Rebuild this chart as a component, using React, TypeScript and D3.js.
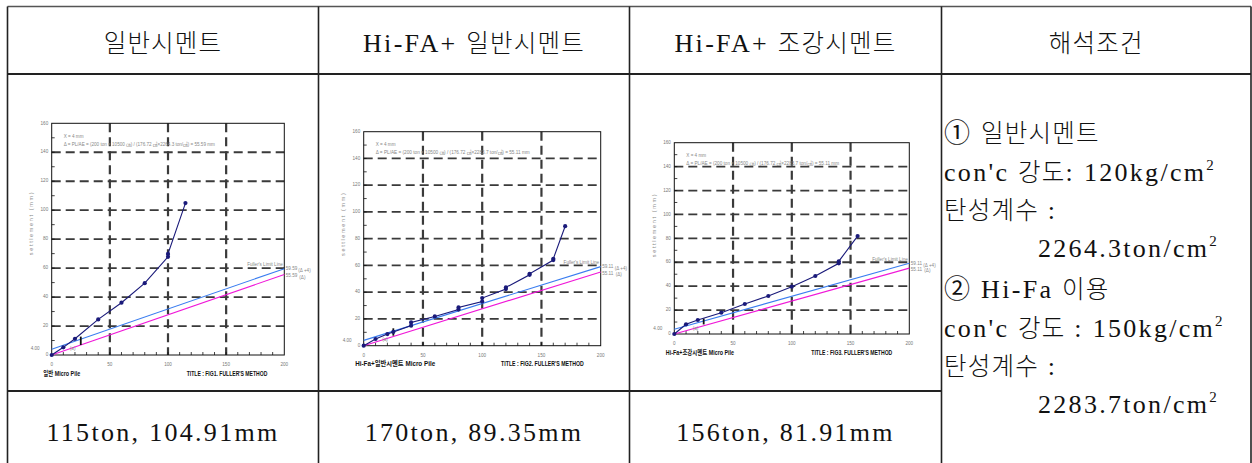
import React from "react";
import * as d3 from "d3";

// ---- table text ----
const headers = ["일반시멘트", "Hi-FA+ 일반시멘트", "Hi-FA+ 조강시멘트", "해석조건"];
const results = ["115ton, 104.91mm", "170ton, 89.35mm", "156ton, 81.91mm"];

// ---- load (ton) / settlement (mm) series ----
const loads1 = [0, 10, 20, 40, 60, 80, 100, 100, 115];
const settle1 = [0, 5.3, 11.2, 24.6, 36.1, 49.6, 67.8, 69.8, 104.91];

const loads2 = [0, 10, 20, 25, 40, 40, 60, 80, 80, 100, 100, 120, 120, 140, 140, 160, 160, 170];
const settle2 = [0, 5, 8.7, 10.3, 15, 17.4, 21.9, 27, 28.6, 33, 35.6, 42.3, 43.6, 53, 53.8, 64, 65, 89.35];

const loads3 = [0, 10, 20, 40, 60, 80, 100, 120, 140, 140, 156];
const settle3 = [0, 8.1, 11.7, 17.8, 25.1, 31.8, 39.6, 48.5, 59.1, 60.8, 81.91];

// Fuller's method: elastic shortening Δ and offset X
const deltas = [55.59, 55.11, 55.11];
const offsetX = 4;
const moduli = ["2264.3", "2283.7", "2283.7"];
const markerLoad = 25;
const markerLow = [6.9, 7.5, 8];
const markerHigh = [12.7, 13, 13];

const pileNames = ["일반 Micro Pile", "Hi-Fa+일반시멘트 Micro Pile", "Hi-Fa+조강시멘트 Micro Pile"];
const figTitles = ["TITLE : FIG1. FULLER'S METHOD", "TITLE : FIG2. FULLER'S METHOD", "TITLE : FIG3. FULLER'S METHOD"];

const xTicks = [0, 50, 100, 150, 200];
const yTicks = [0, 20, 40, 60, 80, 100, 120, 140, 160];

const serif = "'Liberation Serif', 'Noto Sans CJK KR', serif";
const sans = "'Liberation Sans', Arial, 'Noto Sans CJK KR', sans-serif";

// Split a string into Hangul / non-Hangul runs so each can get its own metrics.
const HANGUL = /[\uAC00-\uD7A3\u3131-\u318E]+|[^\uAC00-\uD7A3\u3131-\u318E]+/g;
function MixedRuns({ text }: { text: string }) {
  const runs = text.match(HANGUL) || [];
  return (
    <>
      {runs.map((r, i) =>
        /[\uAC00-\uD7A3]/.test(r) ? (
          <tspan key={i} fontSize={24.5} letterSpacing={1.2} fontWeight={300}>{r}</tspan>
        ) : (
          <tspan key={i} fontSize={26} letterSpacing={2.3}>{r}</tspan>
        )
      )}
    </>
  );
}

type ChartProps = {
  x0: number; y0: number; w: number; h: number;
  loads: number[]; settles: number[]; idx: number;
  captionW: number; titleW: number;
};

function FullerChart({ x0, y0, w, h, loads, settles, idx, captionW, titleW }: ChartProps) {
  const x = d3.scaleLinear().domain([0, 200]).range([x0, x0 + w]);
  const y = d3.scaleLinear().domain([0, 160]).range([y0 + h, y0]);
  const delta = deltas[idx];
  const pts = loads.map((l, i) => [l, settles[i]] as [number, number]);
  const line = d3.line<[number, number]>().x((d) => x(d[0])).y((d) => y(d[1]));
  const grid = "#3a3a3a";
  const tickColor = "#777";
  const minor = d3.range(10, 200, 10);
  const minorY = d3.range(10, 160, 10);
  return (
    <g>
      {/* dashed grid */}
      {yTicks.slice(1, -1).map((t) => (
        <line key={"gy" + t} x1={x0} x2={x0 + w} y1={y(t)} y2={y(t)} stroke={grid} strokeWidth={1.8} strokeDasharray="9 5" />
      ))}
      {xTicks.slice(1, -1).map((t) => (
        <line key={"gx" + t} x1={x(t)} x2={x(t)} y1={y0} y2={y0 + h} stroke={grid} strokeWidth={2.2} strokeDasharray="9 5" />
      ))}
      {/* frame */}
      <rect x={x0} y={y0} width={w} height={h} fill="none" stroke="#111" strokeWidth={1} />
      {minor.map((t) => (
        <line key={"mx" + t} x1={x(t)} x2={x(t)} y1={y0 + h} y2={y0 + h - 3} stroke="#111" strokeWidth={0.8} />
      ))}
      {minorY.map((t) => (
        <line key={"my" + t} x1={x0} x2={x0 + 3} y1={y(t)} y2={y(t)} stroke="#111" strokeWidth={0.8} />
      ))}
      {/* tick labels */}
      {yTicks.map((t) => (
        <text key={"ly" + t} x={x0 - 3.5} y={y(t)} fontSize={4.6} fill={tickColor} textAnchor="end" dominantBaseline="middle" fontFamily={sans}>{t}</text>
      ))}
      <text x={x0 - 12} y={y(offsetX)} fontSize={4.6} fill={tickColor} textAnchor="end" dominantBaseline="middle" fontFamily={sans}>4.00</text>
      {xTicks.map((t) => (
        <text key={"lx" + t} x={x(t)} y={y0 + h + 10} fontSize={4.6} fill={tickColor} textAnchor="middle" dominantBaseline="middle" fontFamily={sans}>{t}</text>
      ))}
      {/* axis title */}
      <text transform={`translate(${x0 - 20},${y0 + h * 0.43}) rotate(-90)`} fontSize={5.6} fill="#888" textAnchor="middle" dominantBaseline="middle" fontFamily={sans} letterSpacing={1.6}>settlement  (mm)</text>
      {/* annotation */}
      <text x={x0 + 12} y={y0 + 13} fontSize={4.6} fill="#888" fontFamily={sans} dominantBaseline="middle">X =  4 mm</text>
      <text x={x0 + 12} y={y0 + 21} fontSize={4.6} fill="#888" fontFamily={sans} dominantBaseline="middle" textLength={w * 0.65} lengthAdjust="spacingAndGlyphs">
        {`Δ = PL/AE = (200 ton × 10500 ㎝) / (176.72 ㎠×${moduli[idx]} ton/㎠) = ${delta.toFixed(2)} mm`}
      </text>
      {/* Fuller limit lines */}
      <line x1={x(0)} y1={y(offsetX)} x2={x(200)} y2={y(delta + offsetX)} stroke="#3a7df0" strokeWidth={1.1} />
      <line x1={x(0)} y1={y(0)} x2={x(200)} y2={y(delta)} stroke="#f018d8" strokeWidth={1.1} />
      <text x={x(200) - 1.5} y={y(delta + offsetX) - 2.5} fontSize={4.6} fill="#888" textAnchor="end" fontFamily={sans}>Fuller's Limit Line</text>
      <text x={x(200) + 1.5} y={y(delta + offsetX)} fontSize={4.6} fill="#888" dominantBaseline="middle" fontFamily={sans}>{(delta + offsetX).toFixed(2)}</text>
      <text x={x(200) + 14} y={y(delta + offsetX) + 2} fontSize={4.6} fill="#888" dominantBaseline="middle" fontFamily={sans}>(Δ +4)</text>
      <text x={x(200) + 1.5} y={y(delta) + 1.5} fontSize={4.6} fill="#888" dominantBaseline="middle" fontFamily={sans}>{delta.toFixed(2)}</text>
      <text x={x(200) + 15} y={y(delta) + 3} fontSize={4.6} fill="#888" dominantBaseline="middle" fontFamily={sans}>(Δ)</text>
      {/* intersection marker */}
      <line x1={x(markerLoad)} x2={x(markerLoad)} y1={y(markerLow[idx])} y2={y(markerHigh[idx])} stroke="#111" strokeWidth={1.8} />
      <text x={x(18)} y={y(4.5)} fontSize={4.6} fill="#888" textAnchor="middle" dominantBaseline="middle" fontFamily={sans}>(a)</text>
      {/* load-settlement curve */}
      <path d={line(pts) || ""} fill="none" stroke="#1a1a7a" strokeWidth={1.1} />
      {pts.map((p, i) => (
        <circle key={"p" + i} cx={x(p[0])} cy={y(p[1])} r={2.1} fill="#1a1a7a" />
      ))}
      {/* captions */}
      <text x={x0 - 8.5} y={y0 + h + 19} fontSize={6.5} fontWeight="bold" fill="#111" fontFamily={sans} dominantBaseline="middle" textLength={captionW} lengthAdjust="spacingAndGlyphs">{pileNames[idx]}</text>
      <text x={x0 + w - titleW - 17} y={y0 + h + 19} fontSize={6.5} fontWeight="bold" fill="#111" fontFamily={sans} dominantBaseline="middle" textLength={titleW} lengthAdjust="spacingAndGlyphs">{figTitles[idx]}</text>
    </g>
  );
}

export default function App() {
  const W = 1252, H = 463;
  const colX = [7.5, 318.5, 629.5, 941.5, 1251];
  const rowY = [6.5, 74, 391, 463];
  const tableStroke = "#222";
  const rightLines: { text: string; sup?: boolean; indent?: boolean }[] = [
    { text: "① 일반시멘트" },
    { text: "con'c 강도: 120kg/cm", sup: true },
    { text: "탄성계수 :" },
    { text: "2264.3ton/cm", sup: true, indent: true },
    { text: "② Hi-Fa 이용" },
    { text: "con'c 강도 : 150kg/cm", sup: true },
    { text: "탄성계수 :" },
    { text: "2283.7ton/cm", sup: true, indent: true },
  ];
  const rightBase = [142, 181, 219, 257, 298, 337, 375, 413];
  return (
    <svg width={W} height={H} viewBox={`0 0 ${W} ${H}`} style={{ position: "absolute", left: 0, top: 0, background: "#fff" }}>
      <rect x={0} y={0} width={W} height={H} fill="#fff" />
      {/* table grid */}
      <line x1={colX[0]} x2={colX[4]} y1={rowY[0]} y2={rowY[0]} stroke="#555" strokeWidth={1.5} />
      <line x1={colX[0]} x2={colX[4]} y1={rowY[1]} y2={rowY[1]} stroke={tableStroke} strokeWidth={2} />
      <line x1={colX[0]} x2={colX[3]} y1={rowY[2]} y2={rowY[2]} stroke={tableStroke} strokeWidth={2} />
      {colX.map((cx, i) => (
        <line key={"c" + i} x1={cx} x2={cx} y1={rowY[0]} y2={H} stroke={tableStroke} strokeWidth={1.6} />
      ))}
      {headers.map((t, i) => (
        <text key={"h" + i} x={(colX[i] + colX[i + 1]) / 2} y={52} fontFamily={serif} textAnchor="middle" fill="#111">
          <MixedRuns text={t} />
        </text>
      ))}
      {results.map((t, i) => (
        <text key={"r" + i} x={(colX[i] + colX[i + 1]) / 2} y={441} fontFamily={serif} textAnchor="middle" fill="#111">
          <MixedRuns text={t} />
        </text>
      ))}
      {rightLines.map((l, i) => (
        <text key={"t" + i} x={l.indent ? 1038 : 944} y={rightBase[i]} fontFamily={serif} fill="#111">
          <MixedRuns text={l.text} />
          {l.sup ? <tspan fontSize={15} dy={-11}>2</tspan> : null}
        </text>
      ))}
      {/* charts */}
      <FullerChart x0={51.7} y0={123.3} w={232.6} h={231.7} loads={loads1} settles={settle1} idx={0} captionW={37} titleW={80.6} />
      <FullerChart x0={363.7} y0={131.7} w={237} h={214} loads={loads2} settles={settle2} idx={1} captionW={80} titleW={82.6} />
      <FullerChart x0={674.3} y0={142.7} w={235} h={191.3} loads={loads3} settles={settle3} idx={2} captionW={68.3} titleW={81} />
    </svg>
  );
}
